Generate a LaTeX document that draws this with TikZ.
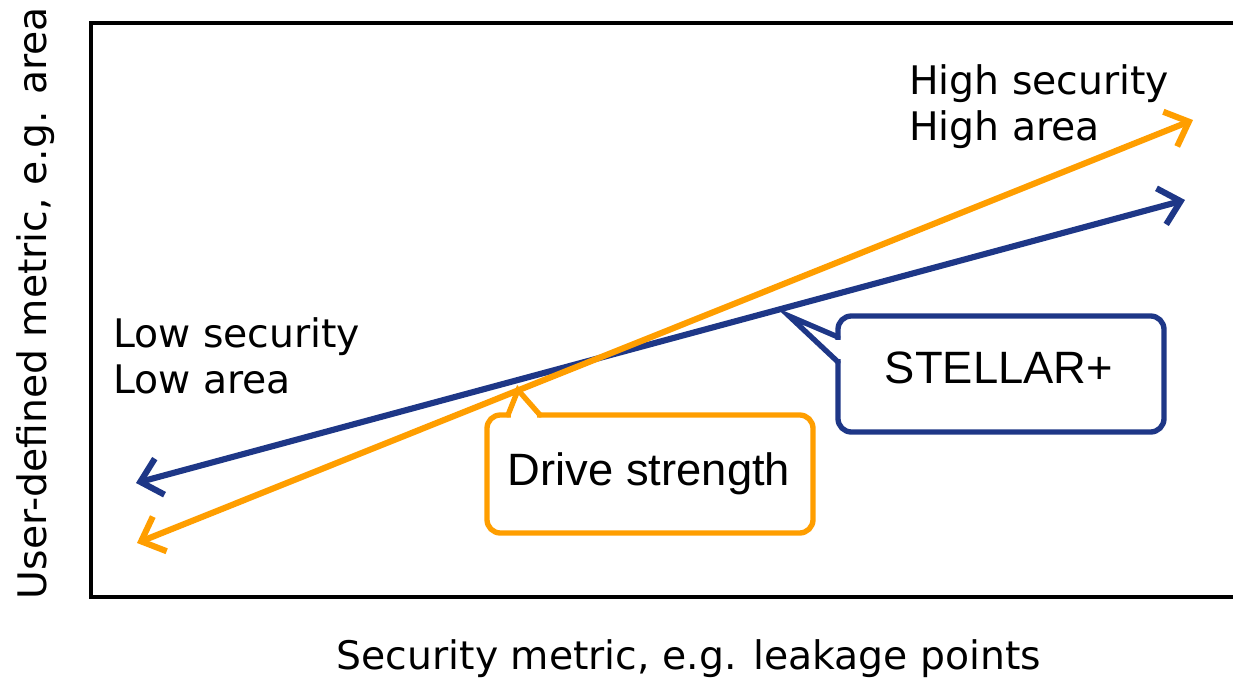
\documentclass[tikz,border=0pt]{standalone}
\usepackage{fontspec}
\setmainfont{DejaVu Sans}
\newfontfamily\calloutfont{Liberation Sans}
\usetikzlibrary{arrows.meta}
\definecolor{navy}{RGB}{30,55,135}
\definecolor{amber}{RGB}{255,158,0}
\tikzset{
  axisline/.style={line width=2.5pt, line cap=rect},
  trend/.style={line width=4.6pt, arrows={Straight Barb[length=15pt,width=28pt]-Straight Barb[length=15pt,width=28pt]}},
  bubble/.style={line width=4pt, line join=miter, line cap=round},
  bubblebox/.style={line width=4pt, rounded corners=10pt},
  comic/.style={font=\fontsize{29.5}{34.5}\selectfont, align=left, inner sep=0pt},
  calltext/.style={font=\calloutfont\fontsize{34}{40}\selectfont, inner sep=0pt},
}
\begin{document}
\begin{tikzpicture}[x=0.75pt,y=-0.75pt]
\useasboundingbox (0,0) rectangle (1233,679);
% axes
\coordinate (tr) at (1236,23);
\coordinate (tl) at (91,23);
\coordinate (bl) at (91,597);
\coordinate (br) at (1236,597);
\draw[axisline] (tr) -- (tl) -- (bl) -- (br);
% axis labels
\node[comic, anchor=base] (xlab) at (689,669) {Security metric, e.g. leakage points};
\node[comic, anchor=base, rotate=90] (ylab) at (46,303) {User-defined metric, e.g. area};
% corner labels (base = baseline of last line)
\node[comic, anchor=base west] (low) at (113,393) {Low security\\Low area};
\node[comic, anchor=base west] (high) at (909,140) {High security\\High area};
% trend arrows
\coordinate (b1) at (136,483);
\coordinate (b2) at (1185,200);
\coordinate (o1) at (137,543);
\coordinate (o2) at (1193,120);
\draw[trend, navy] (b1) -- (b2);
\draw[trend, amber] (o1) -- (o2);
% Drive strength callout
\coordinate (dtip) at (518,390);
\draw[bubblebox, amber] (487,415) rectangle (813,533);
\fill[white] (511,409) rectangle (537,421);
\draw[bubble, amber] (508,415) -- (dtip) -- (540,415);
\node[calltext, anchor=base] (drive) at (649,485) {Drive strength};
% STELLAR+ callout
\coordinate (stip) at (789,316);
\draw[bubblebox, navy] (838,316) rectangle (1164,432);
\fill[white] (832,340) rectangle (844,359);
\draw[bubble, navy] (838,337) -- (stip) -- (838,362);
\node[calltext, anchor=base] (stellar) at (999,383) {STELLAR+};
\end{tikzpicture}
\end{document}
